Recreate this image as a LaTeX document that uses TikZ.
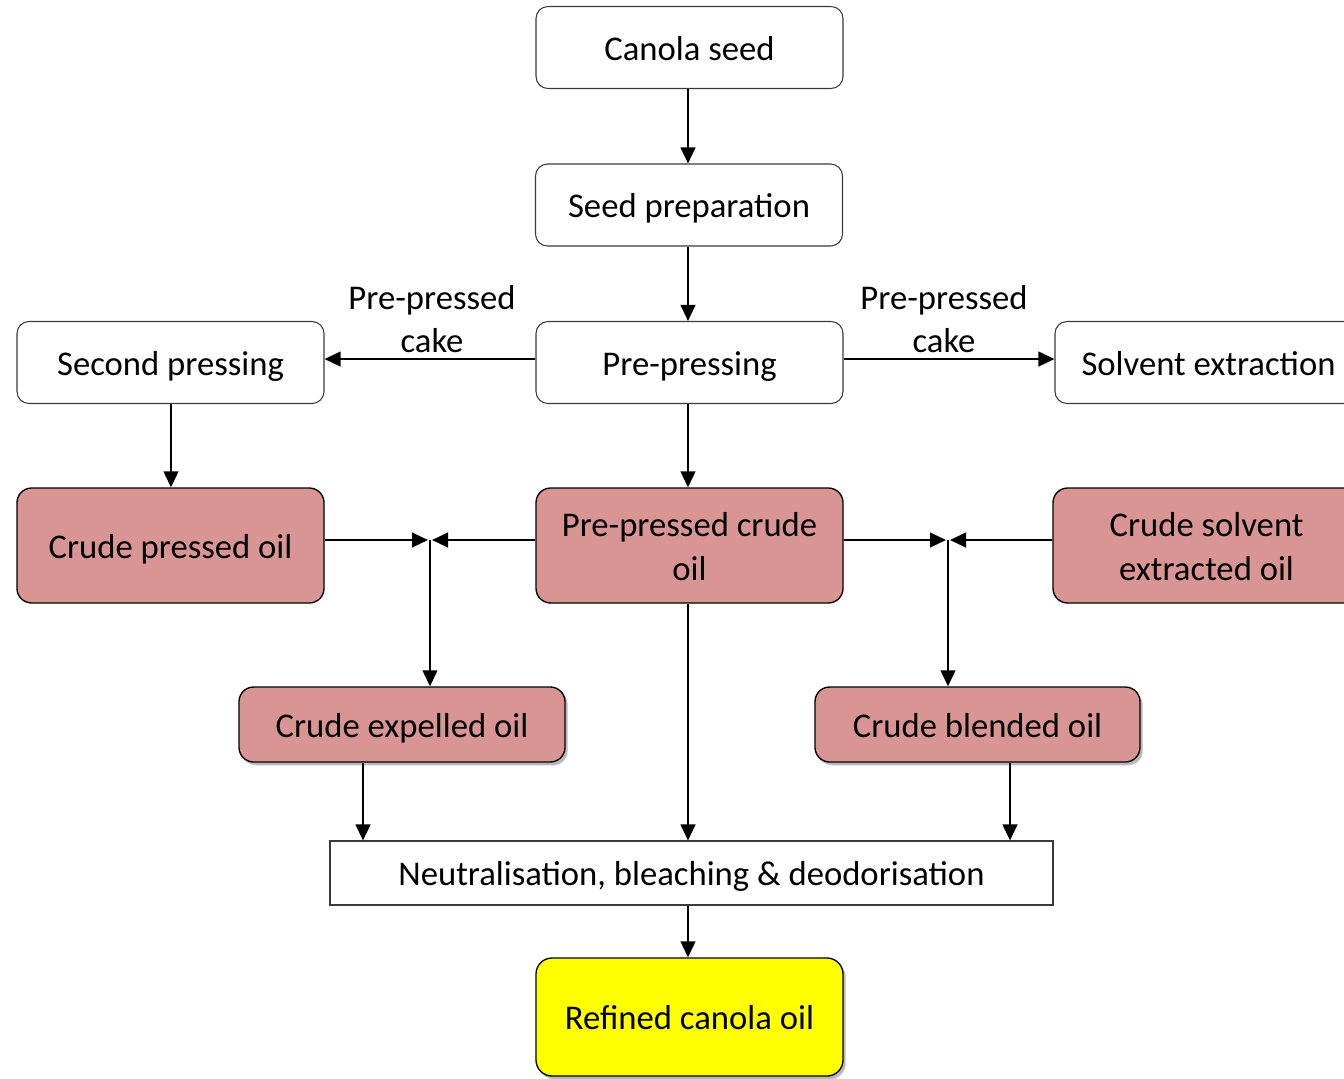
\documentclass[tikz,border=0pt]{standalone}
\usepackage{fontspec}
\setmainfont{Carlito}
\usetikzlibrary{arrows.meta,shadows}
\definecolor{pinkfill}{HTML}{D99594}
\definecolor{edgegray}{HTML}{3A3A3A}
\definecolor{brightyellow}{HTML}{FFFF00}
\newcommand\boxtxt[1]{\raisebox{-3.1pt}[\height][\depth]{\begin{tabular}{@{}c@{}}#1\end{tabular}}}
\begin{document}
\begin{tikzpicture}[x=0.75pt,y=-0.75pt,
  font=\fontsize{26pt}{33pt}\selectfont,
  base/.style={inner sep=0pt, align=center, text=black},
  whitebox/.style={base, draw=edgegray, line width=0.8pt, fill=white, rounded corners=9pt,
    minimum width=230.25pt, minimum height=61.5pt},
  pinkbox/.style={base, draw=black, line width=1pt, fill=pinkfill, rounded corners=11pt,
    minimum width=230.25pt, minimum height=86.25pt},
  shadowed/.style={drop shadow={shadow xshift=2pt, shadow yshift=-2.5pt, opacity=0.45, fill=black!60}},
  arr/.style={line width=1.6pt, -{Triangle[length=12pt,width=11pt]}},
  lbl/.style={base, font=\fontsize{26pt}{32.25pt}\selectfont}
]
\useasboundingbox (0,0) rectangle (1344,1078);
% nodes
\node[whitebox] (canola) at (689.5,47.5) {\boxtxt{Canola seed}};
\node[whitebox] (prep) at (689,205) {\boxtxt{Seed preparation}};
\node[whitebox] (pp) at (689.5,362.5) {\boxtxt{Pre-pressing}};
\node[whitebox] (sp) at (170.5,362.5) {\boxtxt{Second pressing}};
\node[whitebox] (se) at (1208.5,362.5) {\boxtxt{Solvent extraction}};
\node[pinkbox] (cpo) at (170.5,545.5) {\boxtxt{Crude pressed oil}};
\node[pinkbox] (ppco) at (689.5,545.5) {\boxtxt{Pre-pressed crude\\oil}};
\node[pinkbox] (cseo) at (1206.5,545.5) {\boxtxt{Crude solvent\\extracted oil}};
\node[pinkbox, shadowed, minimum width=244.5pt, minimum height=56.25pt] (ceo) at (402,724.5) {\boxtxt{Crude expelled oil}};
\node[pinkbox, shadowed, minimum width=243.75pt, minimum height=56.25pt] (cbo) at (977.5,724.5) {\boxtxt{Crude blended oil}};
\node[base, draw=edgegray, line width=0.8pt, fill=white, minimum width=542.25pt, minimum height=48pt] (nbd) at (691.5,873) {\boxtxt{Neutralisation, bleaching \& deodorisation}};
\node[base, shadowed, draw=black, line width=1pt, fill=brightyellow, rounded corners=12pt, minimum width=230.25pt, minimum height=88.5pt] (rco) at (689.5,1017) {\boxtxt{Refined canola oil}};
% labels
\node[lbl] (lblL) at (432,319.5) {Pre-pressed\\cake};
\node[lbl] (lblR) at (944,319.5) {Pre-pressed\\cake};
% junction coordinates
\coordinate (J1) at (430,540);
\coordinate (J1l) at (428,540);
\coordinate (J1r) at (432,540);
\coordinate (J2) at (948,540);
\coordinate (J2l) at (946,540);
\coordinate (J2r) at (950,540);
% connectors
\draw[arr] (canola.south -| 688,0) -- (prep.north -| 688,0);
\draw[arr] (prep.south -| 688,0) -- (pp.north -| 688,0);
\draw[arr] ([yshift=2.6pt]pp.west) -- ([yshift=2.6pt]sp.east);
\draw[arr] ([yshift=2.6pt]pp.east) -- ([yshift=2.6pt]se.west);
\draw[arr] (sp.south -| 171,0) -- (cpo.north -| 171,0);
\draw[arr] (pp.south -| 688,0) -- (ppco.north -| 688,0);
\draw[arr] (cpo.east |- J1) -- (J1l);
\draw[arr] (ppco.west |- J1) -- (J1r);
\draw[arr] (J1) -- (J1 |- ceo.north);
\draw[arr] (ppco.east |- J2) -- (J2l);
\draw[arr] (cseo.west |- J2) -- (J2r);
\draw[arr] (J2) -- (J2 |- cbo.north);
\draw[arr] (ceo.south -| 363,0) -- (nbd.north -| 363,0);
\draw[arr] (ppco.south -| 688,0) -- (nbd.north -| 688,0);
\draw[arr] (cbo.south -| 1010,0) -- (nbd.north -| 1010,0);
\draw[arr] (nbd.south -| 688,0) -- (rco.north -| 688,0);
\end{tikzpicture}
\end{document}
